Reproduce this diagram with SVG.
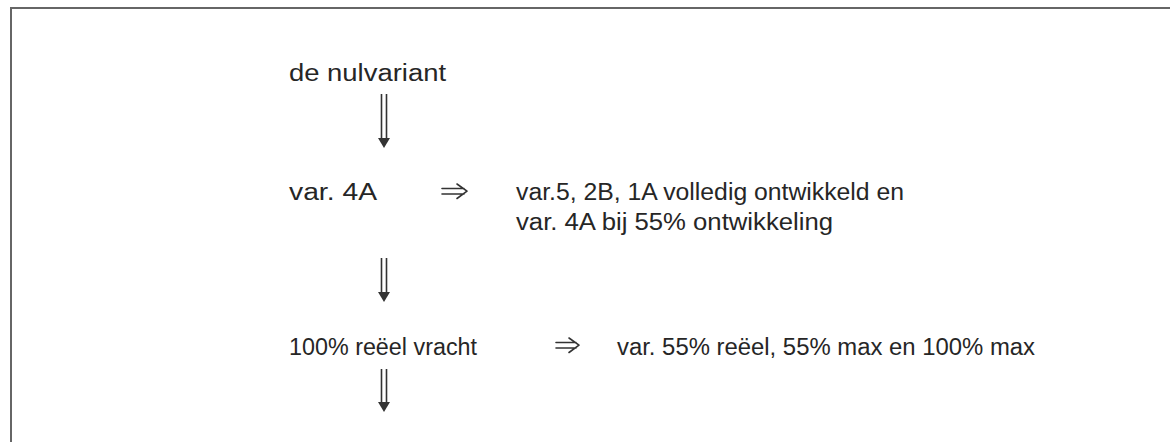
<svg xmlns="http://www.w3.org/2000/svg" width="1170" height="442" viewBox="0 0 1170 442">
<defs>
<style>
.t{font-family:"Liberation Sans",Arial,sans-serif;font-size:23px;fill:#262626}
.frame{stroke:#666;stroke-width:2;fill:none}
.dl{stroke:#333;stroke-width:1.6;fill:none}
.hd{fill:#333;stroke:none}
.ra{stroke:#333;stroke-width:1.6;fill:none;stroke-linecap:round;stroke-linejoin:round}
</style>
</defs>
<rect width="1170" height="442" fill="#fff"/>
<path class="frame" d="M11 442 V8 H1170"/>
<g id="n1"><text class="t" x="289" y="81" textLength="157" lengthAdjust="spacingAndGlyphs">de nulvariant</text></g>
<g id="n2"><text class="t" x="289" y="200" textLength="88" lengthAdjust="spacingAndGlyphs">var. 4A</text></g>
<g id="n3"><text class="t" x="516" y="200" textLength="388" lengthAdjust="spacingAndGlyphs">var.5, 2B, 1A volledig ontwikkeld en</text>
<text class="t" x="516" y="230" textLength="317" lengthAdjust="spacingAndGlyphs">var. 4A bij 55% ontwikkeling</text></g>
<g id="n4"><text class="t" x="289" y="355" textLength="188" lengthAdjust="spacingAndGlyphs">100% reëel vracht</text></g>
<g id="n5"><text class="t" x="617" y="355" textLength="418" lengthAdjust="spacingAndGlyphs">var. 55% reëel, 55% max en 100% max</text></g>
<g id="connectors">
<path class="dl" d="M381.5 94 V139 M386.5 94 V139"/><path class="hd" d="M378 138 H390 L384 148 Z"/>
<path class="dl" d="M381.5 258 V293 M386.5 258 V293"/><path class="hd" d="M378 292 H390 L384 302 Z"/>
<path class="dl" d="M381.5 369 V403 M386.5 369 V403"/><path class="hd" d="M378 402 H390 L384 412 Z"/>
<path class="ra" d="M442 188.5 H464 M442 194 H464 M457 184 L467 191.2 L457 198.5"/>
<path class="ra" d="M556 342.5 H576 M556 348 H576 M569 338 L579 345.2 L569 352.5"/>
</g>
</svg>
